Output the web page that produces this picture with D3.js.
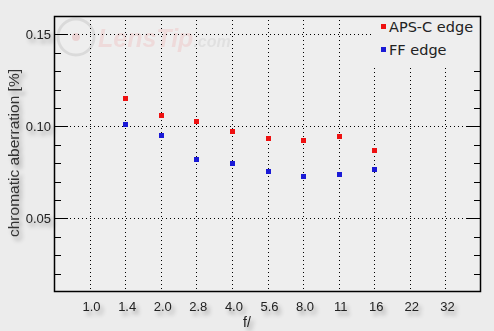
<!DOCTYPE html>
<html>
<head>
<meta charset="utf-8">
<script src="https://cdn.jsdelivr.net/npm/d3@7.9.0/dist/d3.min.js"></script>
<style>
  body { margin: 0; background: #ececec; }
  svg { display: block; }
  .tick-label { font-family: Arial, "Liberation Sans", sans-serif; font-size: 13px; fill: #222; }
  .legend-text { font-family: "DejaVu Sans", sans-serif; font-size: 14.5px; fill: #222; }
</style>
</head>
<body>
<div id="chart"></div>
<script>
const apertures = ['1.0', '1.4', '2.0', '2.8', '4.0', '5.6', '8.0', '11', '16', '22', '32'];
const apscEdge = [
  { f: '1.4', v: 0.1152 }, { f: '2.0', v: 0.1060 }, { f: '2.8', v: 0.1027 }, { f: '4.0', v: 0.0973 },
  { f: '5.6', v: 0.0935 }, { f: '8.0', v: 0.0924 }, { f: '11', v: 0.0946 }, { f: '16', v: 0.0870 }
];
const ffEdge = [
  { f: '1.4', v: 0.1011 }, { f: '2.0', v: 0.0951 }, { f: '2.8', v: 0.0821 }, { f: '4.0', v: 0.0799 },
  { f: '5.6', v: 0.0755 }, { f: '8.0', v: 0.0728 }, { f: '11', v: 0.0739 }, { f: '16', v: 0.0766 }
];
const yMajor = [0.05, 0.10, 0.15];
const yMinor = [0.02, 0.03, 0.04, 0.06, 0.07, 0.08, 0.09, 0.11, 0.12, 0.13, 0.14];
const series = [
  { name: 'APS-C edge', color: '#ee1111', data: apscEdge },
  { name: 'FF edge', color: '#1a1ad6', data: ffEdge }
];

const width = 494, height = 331;
const area = { left: 54, right: 481, top: 16, bottom: 292 };

const svg = d3.select('#chart').append('svg')
  .attr('width', width).attr('height', height);

// soft shadow behind the labels
const defs = svg.append('defs');
const shadow = defs.append('filter').attr('id', 'shadow')
  .attr('x', '-30%').attr('y', '-50%').attr('width', '160%').attr('height', '220%');
shadow.append('feOffset').attr('in', 'SourceAlpha').attr('dx', 3).attr('dy', 4).attr('result', 'off');
shadow.append('feGaussianBlur').attr('in', 'off').attr('stdDeviation', 2).attr('result', 'blur');
shadow.append('feComponentTransfer').attr('in', 'blur').attr('result', 'soft')
  .append('feFuncA').attr('type', 'linear').attr('slope', 0.35);
const merge = shadow.append('feMerge');
merge.append('feMergeNode').attr('in', 'soft');
merge.append('feMergeNode').attr('in', 'SourceGraphic');

const x = d3.scalePoint().domain(apertures).range([area.left, area.right]).padding(1);
const y = d3.scaleLinear().domain([0.01, 0.16]).range([area.bottom, area.top]);

// plot background
svg.append('rect')
  .attr('x', area.left).attr('y', area.top)
  .attr('width', area.right - area.left).attr('height', area.bottom - area.top)
  .attr('fill', '#eeeeee');

// watermark
const wm = svg.append('g').attr('opacity', 0.5);
wm.append('circle').attr('cx', 76).attr('cy', 37).attr('r', 18)
  .attr('fill', 'none').attr('stroke', '#c8c8c8').attr('stroke-width', 3);
wm.append('circle').attr('cx', 76).attr('cy', 37).attr('r', 4).attr('fill', '#e8b8b8');
const wmText = wm.append('text').attr('x', 98).attr('y', 47)
  .style('font-family', 'Arial, sans-serif')
  .style('font-weight', 'bold').style('font-style', 'italic');
wmText.append('tspan').style('font-size', '25px').attr('fill', '#eec8c8').text('LensTip');
wmText.append('tspan').style('font-size', '16px').attr('fill', '#d4d4d4').text('.com');

// gridlines
const grid = svg.append('g').attr('stroke', '#000').attr('stroke-dasharray', '1,3');
grid.selectAll('line.h').data(yMajor).join('line')
  .attr('x1', area.left).attr('x2', area.right)
  .attr('y1', d => Math.round(y(d)) + 0.5).attr('y2', d => Math.round(y(d)) + 0.5);
grid.selectAll('line.v').data(apertures).join('line')
  .attr('x1', d => Math.round(x(d)) + 0.5).attr('x2', d => Math.round(x(d)) + 0.5)
  .attr('y1', area.top).attr('y2', area.bottom);

// ticks on both sides, pointing inward
const ticks = svg.append('g').attr('stroke', '#000');
[area.left, area.right].forEach((edge, i) => {
  const dir = i === 0 ? 1 : -1;
  ticks.append('g').selectAll('line').data(yMajor).join('line')
    .attr('x1', edge).attr('x2', edge + dir * 14)
    .attr('y1', d => Math.round(y(d)) + 0.5).attr('y2', d => Math.round(y(d)) + 0.5);
  ticks.append('g').selectAll('line').data(yMinor).join('line')
    .attr('x1', edge).attr('x2', edge + dir * 7)
    .attr('y1', d => Math.round(y(d)) + 0.5).attr('y2', d => Math.round(y(d)) + 0.5);
});

// legend box covers grid
const legend = svg.append('g');
legend.append('rect').attr('x', 374).attr('y', area.top + 1)
  .attr('width', area.right - 375).attr('height', 49).attr('fill', '#eeeeee');
series.forEach((s, i) => {
  const ly = 26 + i * 23;
  legend.append('rect').attr('x', 381).attr('y', ly - 2).attr('width', 5).attr('height', 5).attr('fill', s.color);
  legend.append('text').attr('class', 'legend-text').attr('x', 389).attr('y', ly + 6).text(s.name);
});
// right ticks that sit next to the legend
ticks.append('g').selectAll('line').data([0.15, 0.14]).join('line')
  .attr('x1', area.right).attr('x2', (d, i) => area.right - (i === 0 ? 14 : 7))
  .attr('y1', d => Math.round(y(d)) + 0.5).attr('y2', d => Math.round(y(d)) + 0.5);

// frame
svg.append('rect')
  .attr('x', area.left + 0.5).attr('y', area.top + 0.5)
  .attr('width', area.right - area.left - 1).attr('height', area.bottom - area.top - 1)
  .attr('fill', 'none').attr('stroke', '#000').attr('stroke-width', 1.5);

// markers
series.forEach(s => {
  svg.append('g').selectAll('rect').data(s.data).join('rect')
    .attr('x', d => Math.round(x(d.f)) - 2)
    .attr('y', d => Math.round(y(d.v)) - 2)
    .attr('width', 5).attr('height', 5)
    .attr('fill', s.color);
});

// tick labels
const labels = svg.append('g').attr('filter', 'url(#shadow)');
labels.selectAll('text.y').data(yMajor).join('text')
  .attr('class', 'tick-label')
  .attr('x', 51).attr('y', d => y(d) + 5)
  .attr('text-anchor', 'end')
  .text(d => d.toFixed(2));
labels.selectAll('text.x').data(apertures).join('text')
  .attr('class', 'tick-label')
  .attr('x', d => x(d) + 2).attr('y', 311)
  .attr('text-anchor', 'middle')
  .text(d => d);
labels.append('text').attr('class', 'tick-label')
  .attr('x', 247).attr('y', 327).attr('text-anchor', 'middle')
  .style('font-size', '14px').text('f/');
labels.append('text').attr('class', 'tick-label')
  .attr('transform', 'translate(19,153) rotate(-90)')
  .attr('text-anchor', 'middle').style('font-size', '15.5px').style('fill', '#333')
  .text('chromatic aberration [%]');
</script>
</body>
</html>
